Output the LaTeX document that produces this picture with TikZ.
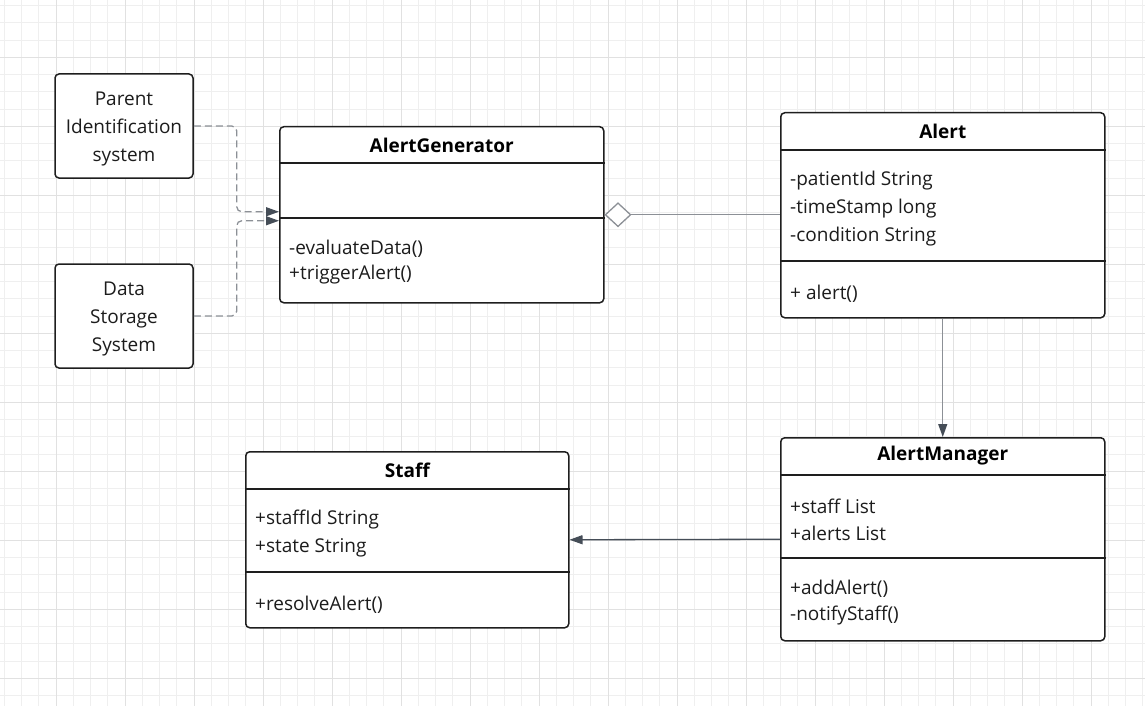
\documentclass[tikz,border=0pt]{standalone}
\usepackage{fontspec}
\setmainfont{Open Sans}
\usetikzlibrary{arrows.meta,calc}
\definecolor{gridminor}{HTML}{EFEFEF}
\definecolor{gridmajor}{HTML}{E1E1E1}
\definecolor{edgec}{HTML}{1E1E1E}
\definecolor{conn}{HTML}{454D57}
\definecolor{lightconn}{HTML}{8C9096}
\definecolor{txt}{HTML}{1C1C1C}
\tikzset{
  plainbox/.style={draw=edgec, line width=1.5pt, rounded corners=4pt, fill=white,
    minimum width=138pt, minimum height=104pt, inner sep=0pt},
  boxtext/.style={align=center, text=txt, font=\fontsize{19}{28}\selectfont, inner sep=0pt},
  umlbox/.style={draw=edgec, line width=1.5pt, rounded corners=4pt, fill=white,
    anchor=north west, inner sep=0pt},
  hdr/.style={font=\fontsize{19}{23}\bfseries\selectfont, text=black, inner sep=0pt},
  row/.style={font=\fontsize{19}{23}\selectfont, text=txt, anchor=west, inner sep=0pt},
  divider/.style={draw=edgec, line width=1.5pt},
  depline/.style={draw=lightconn, line width=1.3pt, dash pattern=on 7pt off 4pt,
    rounded corners=5pt, -{Triangle[length=13pt,width=9pt,color=conn]}},
  assoc/.style={draw=lightconn, line width=1.3pt, -{Triangle[length=13pt,width=9pt,color=conn]}},
  assocdark/.style={draw=conn, line width=1.3pt, -{Triangle[length=13pt,width=9pt,color=conn]}},
  aggr/.style={draw=lightconn, line width=1.3pt, {Diamond[open,length=27pt,width=25pt,fill=white]}-}
}
\begin{document}
\begin{tikzpicture}[x=1pt,y=-1pt]
\useasboundingbox (0,0) rectangle (1145,706);
% grid
\foreach \k in {0,...,66} \draw[gridminor,line width=0.8pt] ({4.25+17.25*\k},0) -- ({4.25+17.25*\k},706);
\foreach \k in {0,...,40} \draw[gridminor,line width=0.8pt] (0,{5.55+17.25*\k}) -- (1145,{5.55+17.25*\k});
\foreach \k in {0,...,15} \draw[gridmajor,line width=1pt] ({56+69*\k},0) -- ({56+69*\k},706);
\foreach \k in {0,...,9} \draw[gridmajor,line width=1pt] (0,{57.3+69*\k}) -- (1145,{57.3+69*\k});

% plain boxes
\node[plainbox] (pis) at (124,126) {};
\node[boxtext] (pisT) at ($(pis.center)+(0,3)$) {Parent\\Identification\\system};
\node[plainbox] (dss) at (124,316) {};
\node[boxtext] (dssT) at ($(dss.center)+(0,3)$) {Data\\Storage\\System};

% AlertGenerator
\node[umlbox, minimum width=324pt, minimum height=176pt] (gen) at (279,126) {};
\node[hdr] (genT) at ($(gen.north)+(0,19)$) {AlertGenerator};
\draw[divider] ([yshift=-37pt]gen.north west) -- ([yshift=-37pt]gen.north east);
\draw[divider] ([yshift=-92pt]gen.north west) -- ([yshift=-92pt]gen.north east);
\node[row] (genM1) at ($(gen.north west)+(10,123)$) {-evaluateData()};
\node[row] (genM2) at ($(gen.north west)+(10,149)$) {+triggerAlert()};

% Alert
\node[umlbox, minimum width=324pt, minimum height=205pt] (alert) at (780,112) {};
\node[hdr] (alertT) at ($(alert.north)+(0,19)$) {Alert};
\draw[divider] ([yshift=-38pt]alert.north west) -- ([yshift=-38pt]alert.north east);
\draw[divider] ([yshift=-149pt]alert.north west) -- ([yshift=-149pt]alert.north east);
\node[row] (alertA1) at ($(alert.north west)+(10,69)$) {-patientId String};
\node[row] (alertA2) at ($(alert.north west)+(10,97)$) {-timeStamp long};
\node[row] (alertA3) at ($(alert.north west)+(10,125)$) {-condition String};
\node[row] (alertM1) at ($(alert.north west)+(10,182)$) {+ alert()};

% AlertManager
\node[umlbox, minimum width=324pt, minimum height=203pt] (mgr) at (780,437) {};
\node[hdr] (mgrT) at ($(mgr.north)+(0,19)$) {AlertManager};
\draw[divider] ([yshift=-38pt]mgr.north west) -- ([yshift=-38pt]mgr.north east);
\draw[divider] ([yshift=-121pt]mgr.north west) -- ([yshift=-121pt]mgr.north east);
\node[row] (mgrA1) at ($(mgr.north west)+(10,69)$) {+staff List};
\node[row] (mgrA2) at ($(mgr.north west)+(10,96)$) {+alerts List};
\node[row] (mgrM1) at ($(mgr.north west)+(10,152)$) {+addAlert()};
\node[row] (mgrM2) at ($(mgr.north west)+(10,179)$) {-notifyStaff()};

% Staff
\node[umlbox, minimum width=323pt, minimum height=176pt] (staff) at (245,451) {};
\node[hdr] (staffT) at ($(staff.north)+(0,19)$) {Staff};
\draw[divider] ([yshift=-38pt]staff.north west) -- ([yshift=-38pt]staff.north east);
\draw[divider] ([yshift=-121pt]staff.north west) -- ([yshift=-121pt]staff.north east);
\node[row] (staffA1) at ($(staff.north west)+(10,69)$) {+staffId String};
\node[row] (staffA2) at ($(staff.north west)+(10,97)$) {+state String};
\node[row] (staffM1) at ($(staff.north west)+(10,154)$) {+resolveAlert()};

% connectors
\draw[depline] (pis.east) -- ++(43,0) |- ([yshift=3pt]gen.west);
\draw[depline] (dss.east) -- ++(43,0) |- ([yshift=-6pt]gen.west);
\draw[aggr] (gen.east) -- (gen.east -| alert.west);
\draw[assoc] (alert.south) -- (mgr.north);
\draw[assocdark] (mgr.west) -- (staff.east);
\end{tikzpicture}
\end{document}
